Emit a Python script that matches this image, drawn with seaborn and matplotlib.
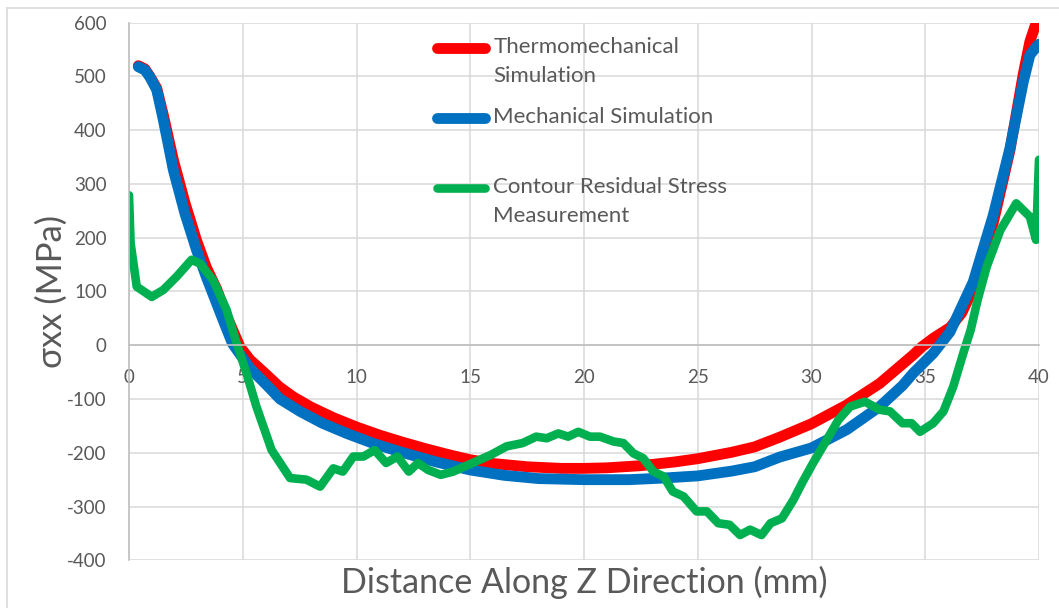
import numpy as np
import pandas as pd
import matplotlib
matplotlib.use("Agg")
import matplotlib.pyplot as plt
from matplotlib.lines import Line2D
from matplotlib.legend_handler import HandlerLine2D
import seaborn as sns

# Thermomechanical simulation: sigma_xx along the z direction
thermo_z = [0.41, 0.7, 0.92, 1.22, 1.51, 1.95, 2.46, 2.97, 3.4, 3.85, 4.29, 4.88,
            5.32, 6.05, 6.6, 7.22, 8.0, 9.0, 10, 11, 12, 13, 14, 15, 16, 17.5, 19,
            20, 21, 22.5, 24, 25, 26.5, 27.5, 28.6, 30, 31.55, 33.0, 34.0, 34.47,
            34.85, 35.35, 36.09, 36.6, 37.11, 37.99, 38.72, 39.31, 39.6, 39.9, 40]
thermo_s = [520, 514, 500, 478, 428, 345, 265, 195, 145, 105, 55, -3,
            -27, -55, -77, -96, -115, -135, -152, -167, -180, -192, -203, -213, -220, -226, -229,
            -229, -228, -224, -217, -211, -199, -189, -171, -146, -111, -71, -35, -18,
            -3, 13, 33, 60, 105, 228, 362, 505, 565, 603, 615]

# Mechanical simulation
mech_z = [0.41, 0.7, 0.92, 1.22, 1.51, 1.95, 2.46, 2.97, 3.4, 3.85, 4.2, 4.55,
          5.32, 6.05, 6.64, 7.52, 8.5, 9.57, 10.7, 11.9, 13.5, 15, 16.5, 18, 20,
          22, 23.5, 25, 26.5, 27.5, 28.6, 30, 31.55, 33.0, 34.0, 34.47, 35.35,
          36.09, 37.11, 37.99, 38.72, 39.31, 39.6, 39.9, 40]
mech_s = [518, 512, 499, 475, 419, 326, 245, 177, 127, 78, 40, 3,
          -43, -74, -100, -123, -145, -164, -182, -198, -217, -232, -242, -248, -250,
          -250, -247, -243, -234, -226, -208, -191, -157, -114, -75, -52, -15,
          25, 118, 242, 366, 490, 540, 556, 560]

# Contour method residual stress measurement
contour_z = [0.0, 0.07, 0.34, 1.0, 1.51, 2.1, 2.75, 3.12, 3.7, 4.29, 4.73, 5.2,
             5.6, 6.27, 7.08, 7.8, 8.4, 8.98, 9.4, 9.86, 10.3, 10.8, 11.3, 11.8,
             12.3, 12.7, 13.15, 13.7, 14.25, 15.1, 15.9, 16.6, 17.3, 17.9, 18.36, 18.87,
             19.3, 19.75, 20.26, 20.7, 21.3, 21.73, 22.17, 22.6, 23.05, 23.5, 23.9, 24.37,
             24.95, 25.4, 25.9, 26.4, 26.86, 27.3, 27.8, 28.2, 28.7, 29.2, 29.6, 30.07,
             30.67, 31.18, 31.7, 32.35, 33.0, 33.45, 34.0, 34.4, 34.77, 35.35, 35.8,
             36.23, 36.67, 37.0, 37.3, 37.7, 38.3, 39.0, 39.6, 39.87, 40.0]
contour_s = [279, 190, 109, 90, 103, 128, 159, 152, 121, 66, 4, -57,
             -114, -195, -247, -250, -263, -229, -235, -207, -207, -195, -219, -207,
             -235, -219, -232, -241, -235, -219, -204, -188, -182, -170, -173, -164,
             -170, -161, -170, -170, -179, -182, -201, -210, -235, -244, -272, -281,
             -309, -309, -331, -334, -353, -343, -353, -331, -322, -288, -255, -219,
             -176, -139, -114, -105, -120, -123, -145, -145, -161, -145, -123,
             -77, -15, 29, 84, 146, 214, 264, 239, 196, 345]

series_labels = ["Thermomechanical\nSimulation", "Mechanical Simulation\n",
                 "Contour Residual Stress\nMeasurement"]
x_ticks = list(range(0, 41, 5))
y_ticks = list(range(-400, 601, 100))

sns.set_style("white")
plt.rcParams["font.family"] = ["Lato", "DejaVu Sans"]
plt.rcParams["axes.unicode_minus"] = False

TEXT = "#595959"
GRID = "#d9d9d9"
AXIS = "#bfbfbf"


class FirstLineHandler(HandlerLine2D):
    """Line handle placed level with the first line of a two-line label."""

    def __init__(self, lift, **kw):
        super().__init__(**kw)
        self.lift = lift

    def create_artists(self, legend, orig_handle, xdescent, ydescent, width,
                       height, fontsize, trans):
        arts = super().create_artists(legend, orig_handle, xdescent, ydescent,
                                      width, height, fontsize, trans)
        for a in arts:
            a.set_ydata(np.asarray(a.get_ydata(), float) + self.lift)
        return arts


fig = plt.figure(figsize=(10.59, 6.08), dpi=100)
ax = fig.add_axes([129 / 1059, 1 - 560.3 / 608, 910 / 1059, 537.6 / 608])

frames = [
    (pd.DataFrame({"z": thermo_z, "s": thermo_s}), "#ff0000", 7.8, series_labels[0]),
    (pd.DataFrame({"z": mech_z, "s": mech_s}), "#0070c0", 7.8, series_labels[1]),
    (pd.DataFrame({"z": contour_z, "s": contour_s}), "#00b050", 6.2, series_labels[2]),
]
for df, col, lw, lab in frames:
    sns.lineplot(data=df, x="z", y="s", ax=ax, color=col, linewidth=lw,
                 label=lab, sort=False, estimator=None,
                 solid_capstyle="round", solid_joinstyle="round")

ax.set_xlim(0, 40)
ax.set_ylim(-400, 600)
ax.set_xticks(x_ticks)
ax.set_yticks(y_ticks)
ax.grid(True, color=GRID, linewidth=1.1)
ax.set_axisbelow(True)

for side in ("top", "right"):
    ax.spines[side].set_visible(False)
ax.spines["left"].set_color(AXIS)
ax.spines["left"].set_linewidth(1.2)
ax.spines["bottom"].set_position(("data", 0))
ax.spines["bottom"].set_color(AXIS)
ax.spines["bottom"].set_linewidth(1.2)

ax.tick_params(axis="both", length=0, labelsize=13.5, labelcolor=TEXT)
ax.tick_params(axis="x", pad=17)
ax.tick_params(axis="y", pad=16)

ax.set_xlabel("Distance Along Z Direction (mm)", fontsize=24.5, color=TEXT)
ax.xaxis.set_label_coords(0.5, -0.011)
ax.set_ylabel("σxx (MPa)", fontsize=25, color=TEXT)
ax.yaxis.set_label_coords(-0.067, 0.5)

handles, labels = ax.get_legend_handles_labels()
leg = ax.legend(handles, labels, loc="upper left", bbox_to_anchor=(0.338, 0.9735),
                frameon=False, fontsize=16, borderaxespad=0, borderpad=0,
                handlelength=2.2, handletextpad=0.35, labelspacing=0.95,
                labelcolor=TEXT,
                handler_map={Line2D: FirstLineHandler(lift=10.0)})
for t in leg.get_texts():
    t.set_linespacing(1.55)

# light outer frame along the left and top edges
fig.add_artist(Line2D([7 / 1059, 7 / 1059], [0, 1 - 8 / 608],
                      transform=fig.transFigure, color=GRID, linewidth=1.2))
fig.add_artist(Line2D([7 / 1059, 1], [1 - 8 / 608, 1 - 8 / 608],
                      transform=fig.transFigure, color=GRID, linewidth=1.2))

fig.savefig("out.png", dpi=100, facecolor="white")
